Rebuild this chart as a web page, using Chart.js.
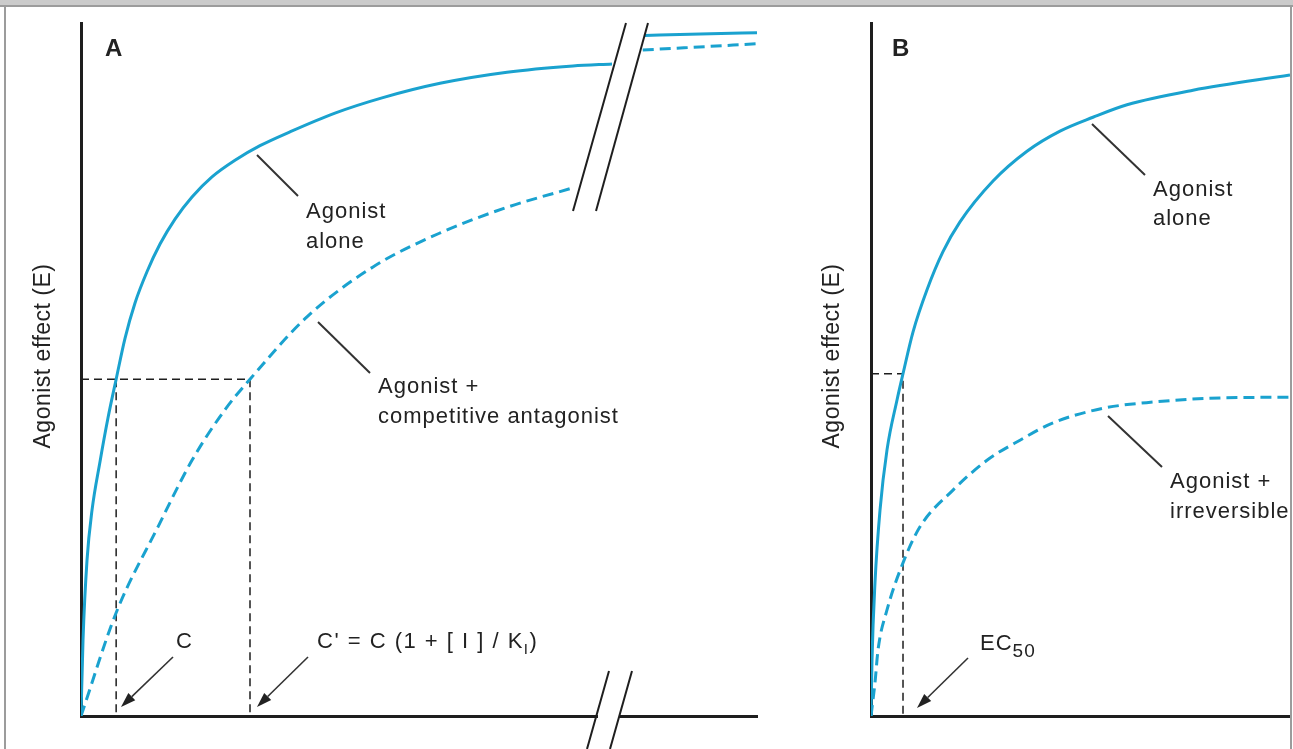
<!DOCTYPE html>
<html>
<head>
<meta charset="utf-8">
<script src="https://cdn.jsdelivr.net/npm/chart.js@4"></script>
<style>
  html, body { margin: 0; padding: 0; background: #fff; }
  body { width: 1293px; height: 749px; position: relative; overflow: hidden; }
  canvas { position: absolute; top: 0; }
  #chartA { left: 0; }
  #chartB { left: 800px; }
  .frame-top { position: absolute; left: 0; top: 0; width: 1293px; height: 5px; background: #cbcbcb; border-bottom: 2px solid #9c9c9c; z-index: 2; }
  .frame-left { position: absolute; left: 4px; top: 5px; width: 2px; height: 744px; background: #9c9c9c; z-index: 2; }
  .frame-right { position: absolute; left: 1290px; top: 5px; width: 2px; height: 744px; background: #9c9c9c; z-index: 2; }
</style>
</head>
<body>
<div class="frame-top"></div>
<div class="frame-left"></div>
<div class="frame-right"></div>
<canvas id="chartA" width="800" height="749"></canvas>
<canvas id="chartB" width="493" height="749"></canvas>
<script>
// ---- data (concentration 0-100, effect 0-100) ----
// panel A, agonist alone (before the axis break)
const aAloneX = [0, 0.30, 0.89, 1.63, 2.81, 3.99, 5.2, 6.51, 7.99, 9.76, 11.69, 13.91, 16.42, 19.38, 22.78, 26.48, 30.92, 37.57, 44.53, 53.11, 63.02, 72.78, 78.55];
const aAloneY = [0, 11.0, 22.5, 29.7, 36.7, 43.0, 48.6, 54.5, 59.6, 64.1, 68.1, 71.7, 74.9, 77.8, 80.2, 82.3, 84.3, 87.0, 89.2, 91.3, 92.9, 93.8, 94.1];
// after the break
const aAloneFarX = [83.4, 91.6, 100];
const aAloneFarY = [98.2, 98.4, 98.6];

// panel A, agonist + competitive antagonist
const aCompX = [0, 5.2, 11.39, 16.42, 21.30, 25.0, 33.43, 43.20, 53.11, 63.02, 73.08];
const aCompY = [0, 14.9, 27.3, 36.9, 44.2, 48.6, 57.6, 64.8, 69.7, 73.4, 76.3];
const aCompFarX = [83.1, 100];
const aCompFarY = [96.1, 97.0];

// C and C' at the same effect level
const aLevel = 48.6;
const aC = 5.2;
const aCprime = 25.0;

// panel B, agonist alone
const bAloneX = [0, 0.24, 0.95, 2.15, 3.82, 6.21, 7.64, 10.02, 13.37, 17.18, 21.24, 29.12, 37.23, 45.11, 52.98, 61.10, 76.85, 100];
const bAloneY = [0, 8.1, 19.2, 29.7, 38.4, 45.6, 49.4, 55.4, 61.5, 67.0, 71.3, 77.2, 81.5, 84.4, 86.4, 88.2, 90.3, 92.5];

// panel B, agonist + irreversible antagonist
const bIrrX = [0, 0.95, 1.67, 3.82, 7.64, 11.69, 19.57, 27.68, 35.56, 43.44, 55.37, 67.30, 83.29, 100];
const bIrrY = [0, 4.8, 9.5, 15.3, 22.1, 27.3, 32.6, 36.9, 39.8, 42.3, 44.4, 45.3, 45.9, 46.0];

const bEC50 = 7.64;
const bHalf = 49.4;

const yTitle = 'Agonist effect (E)';

// ---- helpers ----
const blue = '#1aa2cf';
const ink = '#1e1e1e';

function pts(xs, ys) {
  return xs.map((x, i) => ({ x: x, y: ys[i] }));
}

function curve(xs, ys, dashed) {
  return {
    data: pts(xs, ys),
    borderColor: blue,
    borderWidth: 3,
    borderDash: dashed ? [11, 6] : [],
    pointRadius: 0,
    cubicInterpolationMode: 'monotone',
    fill: false,
    order: 0
  };
}

function guide(points) {
  return {
    data: points,
    borderColor: ink,
    borderWidth: 1.5,
    borderDash: [8, 5],
    pointRadius: 0,
    tension: 0,
    fill: false,
    order: 1
  };
}

const fontName = '"Liberation Sans", Arial, Helvetica, sans-serif';

function drawText(ctx, t) {
  const size = t.size || 22;
  ctx.save();
  ctx.fillStyle = '#222';
  ctx.letterSpacing = (t.ls != null ? t.ls : 1) + 'px';
  ctx.textBaseline = 'alphabetic';
  if (t.rot) {
    ctx.translate(t.x, t.y);
    ctx.rotate(t.rot * Math.PI / 180);
    ctx.font = size + 'px ' + fontName;
    ctx.textAlign = 'center';
    ctx.fillText(t.s, 0, 0);
  } else {
    const parts = t.parts || [[t.s, 1, 0]];
    let x = t.x;
    ctx.textAlign = 'left';
    parts.forEach(p => {
      ctx.font = (t.bold ? 'bold ' : '') + Math.round(size * p[1]) + 'px ' + fontName;
      ctx.fillText(p[0], x, t.y + p[2]);
      x += ctx.measureText(p[0]).width;
    });
  }
  ctx.restore();
}

function drawArrow(ctx, a) {
  const [x1, y1, x2, y2] = a;
  const ang = Math.atan2(y2 - y1, x2 - x1);
  const len = 15, half = 5;
  const bx = x2 - len * Math.cos(ang), by = y2 - len * Math.sin(ang);
  ctx.beginPath();
  ctx.moveTo(x1, y1);
  ctx.lineTo(bx, by);
  ctx.stroke();
  ctx.beginPath();
  ctx.moveTo(x2, y2);
  ctx.lineTo(bx + half * Math.sin(ang), by - half * Math.cos(ang));
  ctx.lineTo(bx - half * Math.sin(ang), by + half * Math.cos(ang));
  ctx.closePath();
  ctx.fill();
}

const sketch = {
  id: 'sketch',
  afterDraw(chart, args, opts) {
    const ctx = chart.ctx;
    ctx.save();
    ctx.translate(-(opts.ox || 0), 0);

    // axis breaks: white out the axis between the two slashes, then draw them
    (opts.breaks || []).forEach(b => {
      if (b.gap) {
        ctx.fillStyle = '#fff';
        ctx.fillRect(b.gap[0], b.gap[1], b.gap[2], b.gap[3]);
      }
      ctx.strokeStyle = ink;
      ctx.lineWidth = 2;
      b.lines.forEach(l => {
        ctx.beginPath();
        ctx.moveTo(l[0], l[1]);
        ctx.lineTo(l[2], l[3]);
        ctx.stroke();
      });
    });

    ctx.strokeStyle = '#333';
    ctx.fillStyle = '#222';
    ctx.lineWidth = 2;
    (opts.leaders || []).forEach(l => {
      ctx.beginPath();
      ctx.moveTo(l[0], l[1]);
      ctx.lineTo(l[2], l[3]);
      ctx.stroke();
    });
    ctx.lineWidth = 1.6;
    (opts.arrows || []).forEach(a => drawArrow(ctx, a));
    (opts.texts || []).forEach(t => drawText(ctx, t));
    ctx.restore();
  }
};

function scales() {
  const axis = {
    type: 'linear',
    min: 0,
    max: 100,
    grid: { display: false, drawTicks: false },
    ticks: { display: false },
    border: { display: true, color: ink, width: 3 }
  };
  return { x: Object.assign({}, axis), y: Object.assign({}, axis) };
}

function baseOptions(padding, annotations) {
  return {
    responsive: false,
    animation: false,
    events: [],
    layout: { padding: padding },
    scales: scales(),
    plugins: {
      legend: { display: false },
      tooltip: { enabled: false },
      sketch: annotations
    }
  };
}

// ---- panel A ----
new Chart(document.getElementById('chartA'), {
  type: 'line',
  data: {
    datasets: [
      curve(aAloneX, aAloneY, false),
      curve(aAloneFarX, aAloneFarY, false),
      curve(aCompX, aCompY, true),
      curve(aCompFarX, aCompFarY, true),
      guide([{ x: 0, y: aLevel }, { x: aCprime, y: aLevel }, { x: aCprime, y: 0 }]),
      guide([{ x: aC, y: aLevel }, { x: aC, y: 0 }])
    ]
  },
  options: baseOptions({ left: 81, right: 43, top: 23, bottom: 33 }, {
    ox: 0,
    breaks: [
      { lines: [[626, 23, 573, 211], [648, 23, 596, 211]] },
      { gap: [598, 710, 21, 12], lines: [[609, 671, 587, 749], [632, 671, 610, 749]] }
    ],
    leaders: [[257, 155, 298, 196], [318, 322, 370, 373]],
    arrows: [[173, 657, 121, 707], [308, 657, 257, 707]],
    texts: [
      { s: 'A', x: 105, y: 56, size: 24, bold: true, ls: 0 },
      { s: 'Agonist', x: 306, y: 218 },
      { s: 'alone', x: 306, y: 248 },
      { s: 'Agonist +', x: 378, y: 393 },
      { s: 'competitive antagonist', x: 378, y: 423 },
      { s: 'C', x: 176, y: 648 },
      { x: 317, y: 648, ls: 1.5, parts: [["C' = C (1 + [ I ] / K", 1, 0], ['I', 0.7, 6], [')', 1, 0]] },
      { s: yTitle, x: 50, y: 356, rot: -90, size: 23, ls: 0.5 }
    ]
  }),
  plugins: [sketch]
});

// ---- panel B ----
new Chart(document.getElementById('chartB'), {
  type: 'line',
  data: {
    datasets: [
      curve(bAloneX, bAloneY, false),
      curve(bIrrX, bIrrY, true),
      guide([{ x: 0, y: bHalf }, { x: bEC50, y: bHalf }, { x: bEC50, y: 0 }])
    ]
  },
  options: baseOptions({ left: 71, right: 3, top: 23, bottom: 33 }, {
    ox: 800,
    leaders: [[1092, 124, 1145, 175], [1108, 416, 1162, 467]],
    arrows: [[968, 658, 917, 708]],
    texts: [
      { s: 'B', x: 892, y: 56, size: 24, bold: true, ls: 0 },
      { s: 'Agonist', x: 1153, y: 196 },
      { s: 'alone', x: 1153, y: 225 },
      { s: 'Agonist +', x: 1170, y: 488 },
      { s: 'irreversible', x: 1170, y: 518 },
      { x: 980, y: 650, parts: [['EC', 1, 0], ['50', 0.85, 7]] },
      { s: yTitle, x: 839, y: 356, rot: -90, size: 23, ls: 0.5 }
    ]
  }),
  plugins: [sketch]
});
</script>
</body>
</html>
